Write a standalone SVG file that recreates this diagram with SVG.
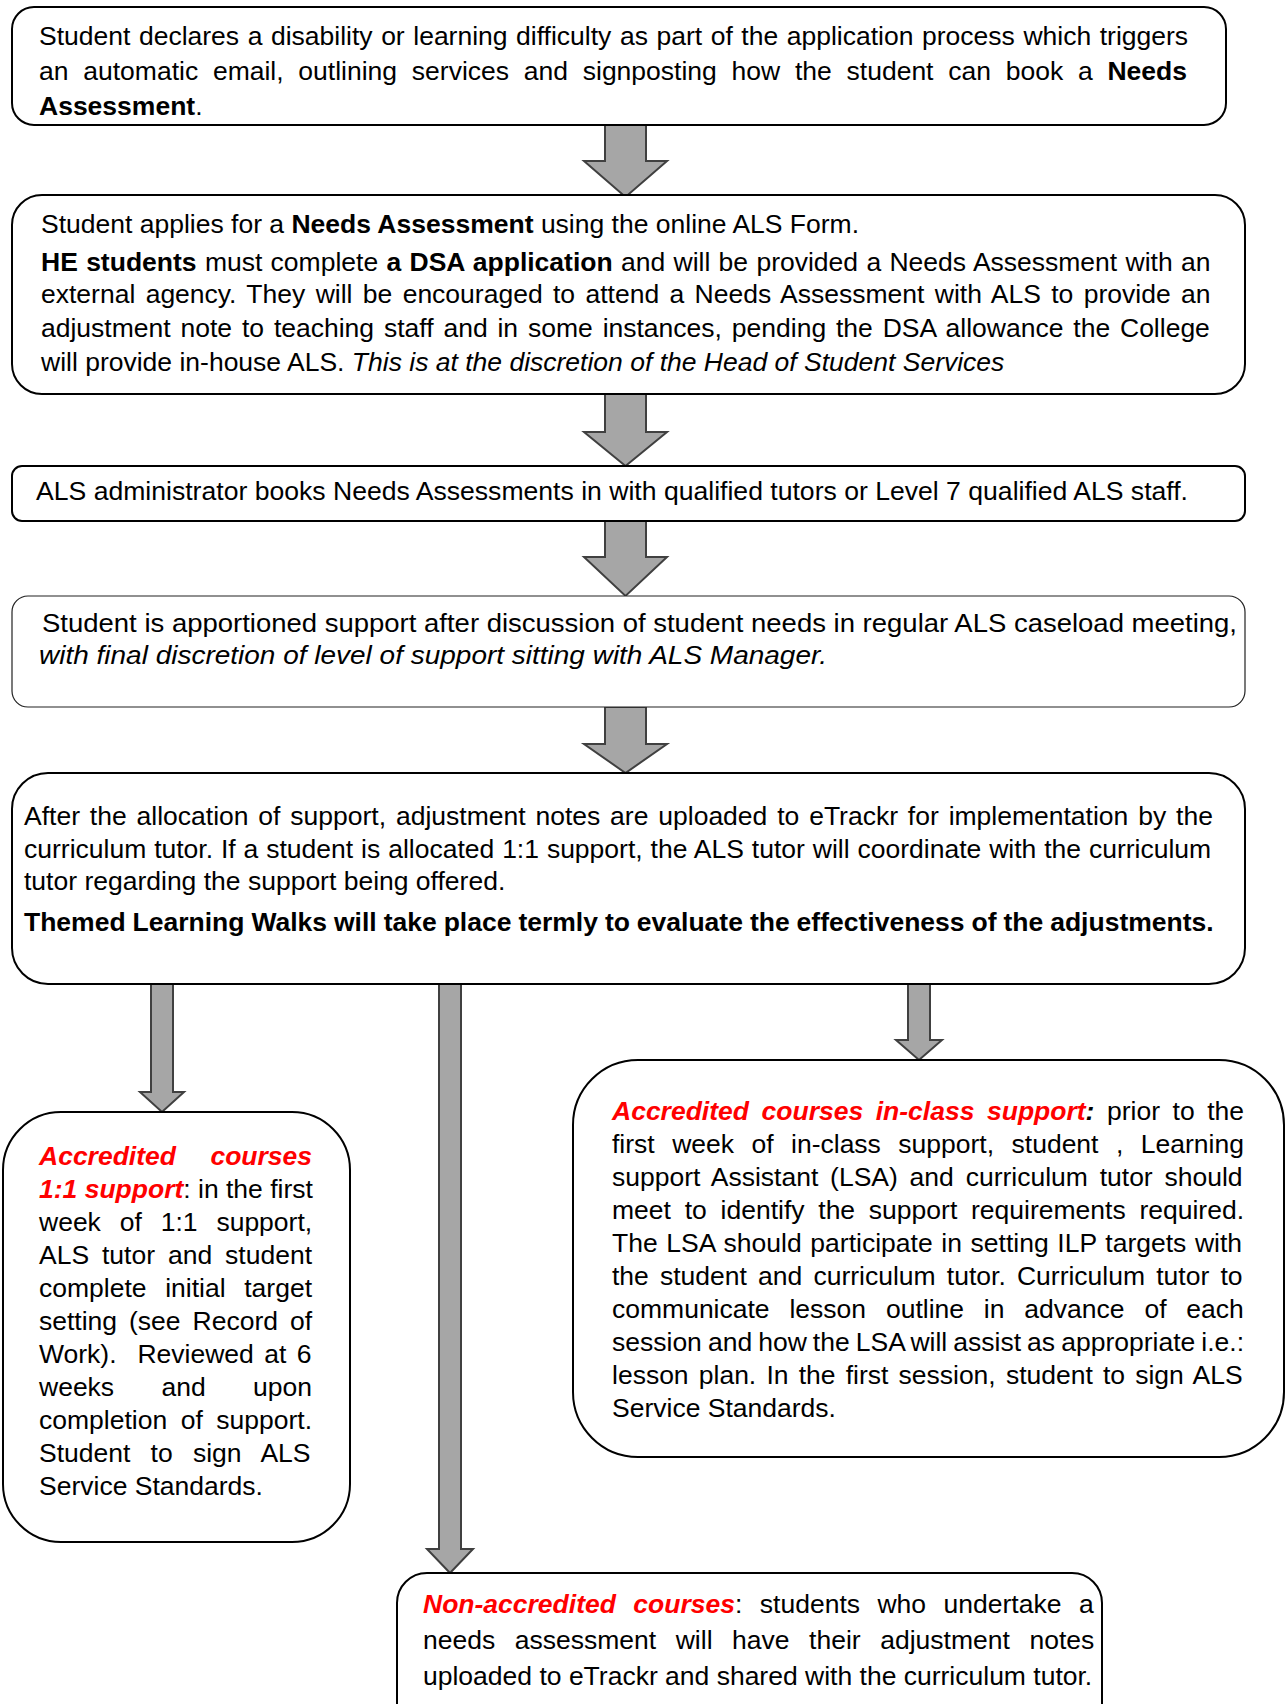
<svg xmlns="http://www.w3.org/2000/svg" width="1285" height="1704" viewBox="0 0 1285 1704">
<style>
.t{font-family:"Liberation Sans",Arial,sans-serif;font-size:26.5px;fill:#000}
.b{font-weight:bold}
.i{font-style:italic}
.r{fill:#ff0000;font-weight:bold;font-style:italic}
.bi{font-weight:bold;font-style:italic}
.box{fill:#fff;stroke:#000;stroke-width:2}
.thin{fill:#fff;stroke:#222;stroke-width:1.2}
.arrow{fill:#a6a6a6;stroke:#404040;stroke-width:2}
</style>
<rect width="1285" height="1704" fill="#fff"/>
<g id="connectors">
<path class="arrow" d="M605,125 H646 V161 H667 L625.5,197 L584,161 H605 Z"/>
<path class="arrow" d="M605,394 H646 V432 H667 L625.5,466 L584,432 H605 Z"/>
<path class="arrow" d="M605,521 H646 V557 H667 L625.5,596 L584,557 H605 Z"/>
<path class="arrow" d="M605,707 H646 V744 H667 L625.5,773 L584,744 H605 Z"/>
<path class="arrow" d="M151,984 H173 V1092 H184 L162,1112 L140,1092 H151 Z"/>
<path class="arrow" d="M439,984 H461 V1549 H473 L450,1573 L427,1549 H439 Z"/>
<path class="arrow" d="M908,984 H930 V1040 H942 L919,1060 L896,1040 H908 Z"/>
</g>
<g id="node1">
<rect class="box" x="12" y="7" width="1214" height="118" rx="22"/>
<text class="t" x="39" y="45" style="word-spacing:1.2px">Student declares a disability or learning difficulty as part of the application process which triggers</text>
<text class="t" x="39" y="80" style="word-spacing:7.4px">an automatic email, outlining services and signposting how the student can book a <tspan class="b">Needs</tspan></text>
<text class="t" x="39" y="115"><tspan class="b">Assessment</tspan>.</text>
</g>
<g id="node2">
<rect class="box" x="12" y="195" width="1233" height="199" rx="30"/>
<text class="t" x="41" y="233">Student applies for a <tspan class="b">Needs Assessment</tspan> using the online ALS Form.</text>
<text class="t" x="41" y="271" style="word-spacing:0.95px"><tspan class="b">HE students</tspan> must complete <tspan class="b">a DSA application</tspan> and will be provided a Needs Assessment with an</text>
<text class="t" x="41" y="303" style="word-spacing:3px">external agency. They will be encouraged to attend a Needs Assessment with ALS to provide an</text>
<text class="t" x="41" y="337" style="word-spacing:2.5px">adjustment note to teaching staff and in some instances, pending the DSA allowance the College</text>
<text class="t" x="41" y="371">will provide in-house ALS. <tspan class="i">This is at the discretion of the Head of Student Services</tspan></text>
</g>
<g id="node3">
<rect class="box" x="12" y="466" width="1233" height="55" rx="10"/>
<text class="t" x="36" y="500" textLength="1152" lengthAdjust="spacingAndGlyphs">ALS administrator books Needs Assessments in with qualified tutors or Level 7 qualified ALS staff.</text>
</g>
<g id="node4">
<rect class="thin" x="12" y="596" width="1233" height="111" rx="16"/>
<text class="t" x="42" y="632" textLength="1195" lengthAdjust="spacingAndGlyphs">Student is apportioned support after discussion of student needs in regular ALS caseload meeting,</text>
<text class="t i" x="39" y="664" textLength="788" lengthAdjust="spacingAndGlyphs">with final discretion of level of support sitting with ALS Manager.</text>
</g>
<g id="node5">
<rect class="box" x="12" y="773" width="1233" height="211" rx="36"/>
<text class="t" x="24" y="825" style="word-spacing:2.5px">After the allocation of support, adjustment notes are uploaded to eTrackr for implementation by the</text>
<text class="t" x="24" y="858" style="word-spacing:0.55px">curriculum tutor. If a student is allocated 1:1 support, the ALS tutor will coordinate with the curriculum</text>
<text class="t" x="24" y="890">tutor regarding the support being offered.</text>
<text class="t b" x="24" y="931" style="word-spacing:-0.4px">Themed Learning Walks will take place termly to evaluate the effectiveness of the adjustments.</text>
</g>
<g id="node6">
<rect class="box" x="3" y="1112" width="347" height="430" rx="58"/>
<text class="t" x="39" y="1165" style="word-spacing:27.1px"><tspan class="r">Accredited courses</tspan></text>
<text class="t" x="39" y="1198"><tspan class="r">1:1 support</tspan>: in the first</text>
<text class="t" x="39" y="1231" style="word-spacing:11.5px">week of 1:1 support,</text>
<text class="t" x="39" y="1264" style="word-spacing:5.56px">ALS tutor and student</text>
<text class="t" x="39" y="1297" style="word-spacing:11.3px">complete initial target</text>
<text class="t" x="39" y="1330" style="word-spacing:4.6px">setting (see Record of</text>
<text class="t" x="39" y="1363" style="word-spacing:3.1px">Work).&#160; Reviewed at 6</text>
<text class="t" x="39" y="1396" style="word-spacing:40px">weeks and upon</text>
<text class="t" x="39" y="1429" style="word-spacing:6.15px">completion of support.</text>
<text class="t" x="39" y="1462" style="word-spacing:12.9px">Student to sign ALS</text>
<text class="t" x="39" y="1495">Service Standards.</text>
</g>
<g id="node8">
<rect class="box" x="573" y="1060" width="711" height="397" rx="65"/>
<text class="t" x="612" y="1120" style="word-spacing:5.2px"><tspan class="r">Accredited courses in-class support</tspan><tspan class="bi">:</tspan> prior to the</text>
<text class="t" x="612" y="1153" style="word-spacing:10.1px">first week of in-class support, student , Learning</text>
<text class="t" x="612" y="1186" style="word-spacing:4.45px">support Assistant (LSA) and curriculum tutor should</text>
<text class="t" x="612" y="1219" style="word-spacing:6.4px">meet to identify the support requirements required.</text>
<text class="t" x="612" y="1252" style="word-spacing:1.3px">The LSA should participate in setting ILP targets with</text>
<text class="t" x="612" y="1285" style="word-spacing:3.8px">the student and curriculum tutor. Curriculum tutor to</text>
<text class="t" x="612" y="1318" style="word-spacing:12.5px">communicate lesson outline in advance of each</text>
<text class="t" x="612" y="1351" style="word-spacing:-1.3px">session and how the LSA will assist as appropriate i.e.:</text>
<text class="t" x="612" y="1384" style="word-spacing:2.8px">lesson plan. In the first session, student to sign ALS</text>
<text class="t" x="612" y="1417">Service Standards.</text>
</g>
<g id="node7">
<rect class="box" x="397" y="1573" width="705" height="160" rx="30"/>
<text class="t" x="423" y="1613" style="word-spacing:10.1px"><tspan class="r">Non-accredited courses</tspan>: students who undertake a</text>
<text class="t" x="423" y="1649" style="word-spacing:12.2px">needs assessment will have their adjustment notes</text>
<text class="t" x="423" y="1685">uploaded to eTrackr and shared with the curriculum tutor.</text>
</g>
</svg>
